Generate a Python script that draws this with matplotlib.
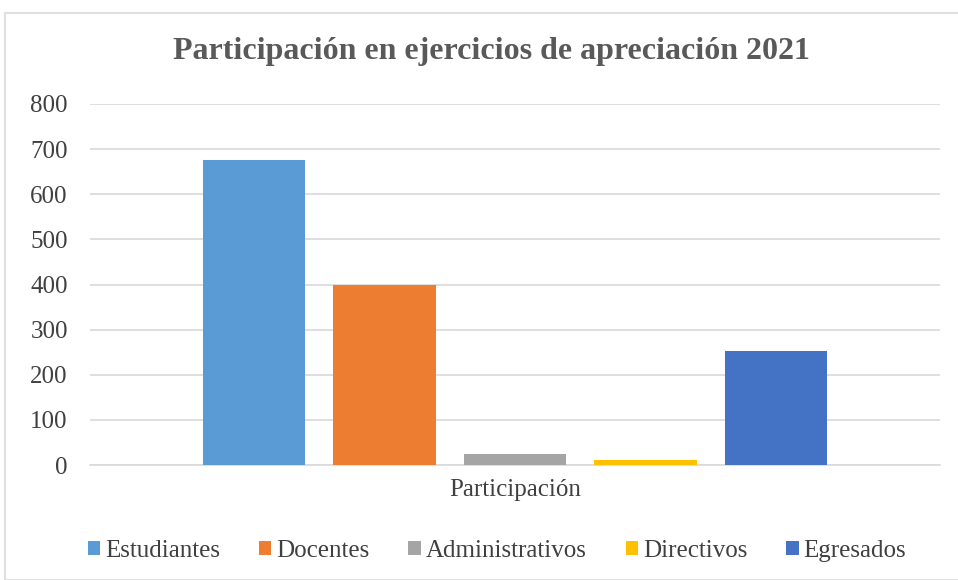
import numpy as np
import matplotlib.pyplot as plt
from matplotlib.patches import Rectangle

plt.rcParams['font.family'] = ['Liberation Serif', 'DejaVu Serif']

series = ['Estudiantes', 'Docentes', 'Administrativos', 'Directivos', 'Egresados']
values = [677, 400, 24, 11, 252]
colors = ['#5b9bd5', '#ed7d31', '#a5a5a5', '#ffc000', '#4472c4']
category = 'Participación'

fig = plt.figure(figsize=(9.58, 5.8), dpi=100)
# chart border like Excel
fig.patches.append(Rectangle((5 / 958, 0), 1, 1 - 13 / 580, transform=fig.transFigure,
                             fill=False, edgecolor='#d9d9d9', linewidth=1.2))

ax = fig.add_axes([90 / 958, 1 - 465 / 580, 850 / 958, 361 / 580])

step = 0.1535
width = 0.121
for i, (name, v, c) in enumerate(zip(series, values, colors)):
    ax.bar(0.5 + (i - 2) * step, v, width=width, color=c, label=name, zorder=3)

ax.set_xlim(0, 1)
ax.set_ylim(0, 800)
ax.set_yticks(np.arange(0, 801, 100))
ax.set_xticks([0.5])
ax.set_xticklabels([category])
ax.tick_params(axis='y', length=0, labelsize=18, colors='#404040', pad=16)
ax.tick_params(axis='x', length=0, labelsize=18, colors='#404040', pad=10)
ax.grid(axis='y', color='#d9d9d9', linewidth=1.2, zorder=0)
for s in ['top', 'right', 'left']:
    ax.spines[s].set_visible(False)
ax.spines['bottom'].set_color('#d9d9d9')
ax.spines['bottom'].set_linewidth(1.2)

fig.text(491 / 958, 1 - 52 / 580, 'Participación en ejercicios de apreciación 2021',
         ha='center', va='center', fontsize=23, fontweight='bold', color='#595959')

leg = fig.legend(loc='center', bbox_to_anchor=(497 / 958, 1 - 551 / 580), ncol=5,
                 frameon=False, fontsize=18, handlelength=0.5, handleheight=0.5,
                 handletextpad=0.2, columnspacing=1.55, labelcolor='#404040')

fig.savefig('out.png', dpi=100)
